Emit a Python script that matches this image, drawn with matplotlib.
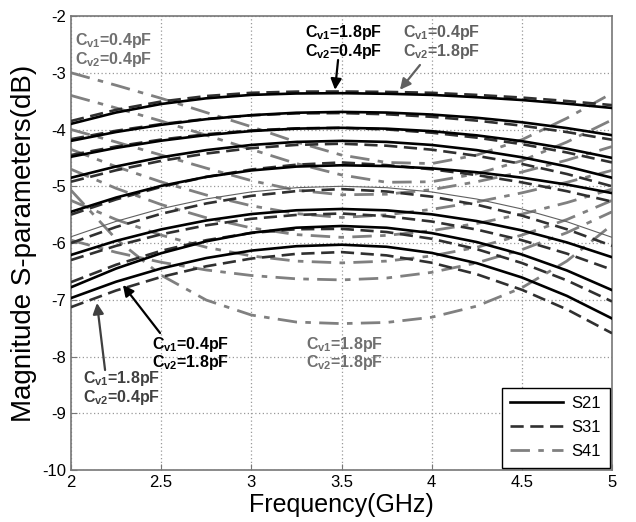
import matplotlib
matplotlib.use("Agg")
import matplotlib.pyplot as plt
from matplotlib.lines import Line2D

plt.rcParams['font.family'] = ['Liberation Sans', 'DejaVu Sans']
plt.rcParams['mathtext.fontset'] = 'custom'
plt.rcParams['mathtext.rm'] = 'Liberation Sans'
plt.rcParams['mathtext.bf'] = 'Liberation Sans:bold'

freq = [2.0, 2.25, 2.5, 2.75, 3.0, 3.25, 3.5, 3.75, 4.0, 4.25, 4.5, 4.75, 5.0]

s21 = [
    [-3.90, -3.70, -3.55, -3.45, -3.39, -3.365, -3.36, -3.37, -3.39, -3.43, -3.48, -3.545, -3.62],
    [-4.20, -4.044, -3.917, -3.818, -3.747, -3.704, -3.69, -3.701, -3.736, -3.793, -3.872, -3.975, -4.10],
    [-4.48, -4.324, -4.197, -4.098, -4.027, -3.984, -3.97, -3.985, -4.029, -4.103, -4.205, -4.338, -4.50],
    [-4.85, -4.651, -4.489, -4.363, -4.272, -4.218, -4.20, -4.218, -4.272, -4.363, -4.489, -4.651, -4.85],
    [-5.45, -5.199, -4.994, -4.835, -4.721, -4.653, -4.63, -4.644, -4.684, -4.753, -4.848, -4.970, -5.12],
    [-5.89, -5.618, -5.395, -5.223, -5.099, -5.025, -5.00, -5.025, -5.10, -5.225, -5.40, -5.625, -5.90],
    [-6.21, -5.962, -5.76, -5.603, -5.49, -5.423, -5.40, -5.424, -5.494, -5.613, -5.777, -5.99, -6.25],
    [-6.78, -6.45, -6.18, -5.97, -5.82, -5.73, -5.70, -5.731, -5.825, -5.983, -6.202, -6.484, -6.83],
    [-6.97, -6.682, -6.448, -6.265, -6.134, -6.056, -6.03, -6.066, -6.174, -6.355, -6.607, -6.932, -7.33],
]

s31 = [
    [-3.85, -3.653, -3.507, -3.41, -3.353, -3.332, -3.33, -3.337, -3.353, -3.39, -3.437, -3.498, -3.57],
    [-4.17, -4.022, -3.904, -3.813, -3.750, -3.716, -3.71, -3.731, -3.776, -3.843, -3.932, -4.045, -4.18],
    [-4.45, -4.299, -4.177, -4.083, -4.017, -3.979, -3.97, -3.998, -4.056, -4.143, -4.258, -4.405, -4.58],
    [-4.92, -4.718, -4.552, -4.423, -4.329, -4.271, -4.25, -4.285, -4.355, -4.463, -4.606, -4.784, -5.00],
    [-5.50, -5.232, -5.011, -4.835, -4.704, -4.620, -4.58, -4.627, -4.701, -4.803, -4.931, -5.087, -5.27],
    [-6.00, -5.718, -5.485, -5.303, -5.169, -5.085, -5.05, -5.092, -5.183, -5.325, -5.517, -5.758, -6.05],
    [-6.30, -6.05, -5.847, -5.688, -5.573, -5.505, -5.48, -5.527, -5.621, -5.763, -5.95, -6.187, -6.47],
    [-6.69, -6.383, -6.137, -5.95, -5.823, -5.757, -5.75, -5.806, -5.925, -6.108, -6.352, -6.659, -7.03],
    [-7.13, -6.837, -6.598, -6.41, -6.274, -6.191, -6.16, -6.218, -6.347, -6.55, -6.824, -7.17, -7.59],
]

s41 = [
    [-3.00, -3.22, -3.45, -3.70, -3.95, -4.22, -4.45, -4.58, -4.60, -4.45, -4.18, -3.80, -3.36],
    [-3.40, -3.62, -3.85, -4.10, -4.35, -4.60, -4.80, -4.93, -4.92, -4.78, -4.55, -4.22, -3.83],
    [-4.00, -4.22, -4.45, -4.68, -4.90, -5.07, -5.15, -5.14, -5.06, -4.92, -4.75, -4.54, -4.30],
    [-4.35, -4.654, -4.923, -5.154, -5.343, -5.482, -5.55, -5.503, -5.407, -5.276, -5.116, -4.93, -4.72],
    [-4.70, -5.036, -5.322, -5.555, -5.734, -5.852, -5.90, -5.866, -5.782, -5.656, -5.49, -5.288, -5.05],
    [-5.25, -5.586, -5.861, -6.075, -6.228, -6.319, -6.35, -6.319, -6.228, -6.075, -5.861, -5.586, -5.25],
    [-5.95, -6.164, -6.339, -6.475, -6.572, -6.631, -6.65, -6.617, -6.517, -6.35, -6.117, -5.817, -5.45],
    [-5.07, -5.93, -6.567, -7.005, -7.269, -7.393, -7.42, -7.40, -7.308, -7.112, -6.789, -6.317, -5.68],
]

legend_labels = ['S21', 'S31', 'S41']
xticks = [2, 2.5, 3, 3.5, 4, 4.5, 5]
yticks = [-10, -9, -8, -7, -6, -5, -4, -3, -2]

fig = plt.figure(figsize=(6.36, 5.22), dpi=100)
ax = fig.add_axes([0.1116, 0.0996, 0.8507, 0.8697])

gray41 = '#808080'
for c in s41:
    ax.plot(freq, c, color=gray41, lw=2.0, linestyle=(0, (7, 3, 2, 3)), zorder=2)
for c in s31:
    ax.plot(freq, c, color='#303030', lw=1.9, linestyle=(0, (5, 2.5)), zorder=3)
for i, c in enumerate(s21):
    if i == 5:
        ax.plot(freq, c, color='#606060', lw=0.8, zorder=4)
    else:
        ax.plot(freq, c, color='black', lw=1.9, zorder=4)

ax.set_xlim(2, 5)
ax.set_ylim(-10, -2)
ax.set_xticks(xticks)
ax.set_xticklabels(['2', '2.5', '3', '3.5', '4', '4.5', '5'])
ax.set_yticks(yticks)
ax.set_yticklabels([str(v) for v in yticks])
ax.tick_params(direction='in', labelsize=12, length=4, color='#777777')
ax.grid(True, linestyle=(0, (1, 2)), color='#999999', lw=0.9)
for sp in ax.spines.values():
    sp.set_color('#777777')
    sp.set_linewidth(1.2)
ax.set_xlabel('Frequency(GHz)', fontsize=18, labelpad=2)
ax.set_ylabel('Magnitude S-parameters(dB)', fontsize=20, labelpad=4)

def lab(x, y1, y2, t1, t2, color):
    ax.text(x, y1, t1, fontsize=11.5, fontweight='bold', color=color, va='center', ha='left', zorder=6)
    ax.text(x, y2, t2, fontsize=11.5, fontweight='bold', color=color, va='center', ha='left', zorder=6)

c1 = r'C$_{\mathbf{v1}}$='
c2 = r'C$_{\mathbf{v2}}$='
lab(2.022, -2.423, -2.758, c1 + '0.4pF', c2 + '0.4pF', '#707070')
lab(3.298, -2.282, -2.617, c1 + '1.8pF', c2 + '0.4pF', 'black')
lab(3.841, -2.282, -2.617, c1 + '0.4pF', c2 + '1.8pF', '#606060')
lab(2.449, -7.78, -8.097, c1 + '0.4pF', c2 + '1.8pF', 'black')
lab(3.303, -7.78, -8.097, c1 + '1.8pF', c2 + '1.8pF', '#707070')
lab(2.067, -8.379, -8.714, c1 + '1.8pF', c2 + '0.4pF', '#404040')

def arrow(xt, yt, xh, yh, color):
    ax.annotate('', xy=(xh, yh), xytext=(xt, yt),
                arrowprops=dict(arrowstyle='-|>', color=color, lw=1.6, mutation_scale=16,
                                shrinkA=0, shrinkB=0), zorder=7)

arrow(3.481, -2.775, 3.464, -3.30, 'black')
arrow(3.935, -2.863, 3.824, -3.30, '#606060')
arrow(2.494, -7.586, 2.288, -6.74, 'black')
arrow(2.189, -8.238, 2.144, -7.057, '#404040')

handles = [
    Line2D([], [], color='black', lw=1.9),
    Line2D([], [], color='#303030', lw=1.9, linestyle=(0, (5, 2.5))),
    Line2D([], [], color=gray41, lw=2.0, linestyle=(0, (7, 3, 2, 3))),
]
leg = ax.legend(handles, legend_labels, loc='lower right', fontsize=12, fancybox=False,
                edgecolor='black', framealpha=1, borderaxespad=0.15, handlelength=3.2,
                labelspacing=0.55, borderpad=0.5, handletextpad=0.5)
leg.get_frame().set_linewidth(1.0)

fig.savefig('out.png', dpi=100)
